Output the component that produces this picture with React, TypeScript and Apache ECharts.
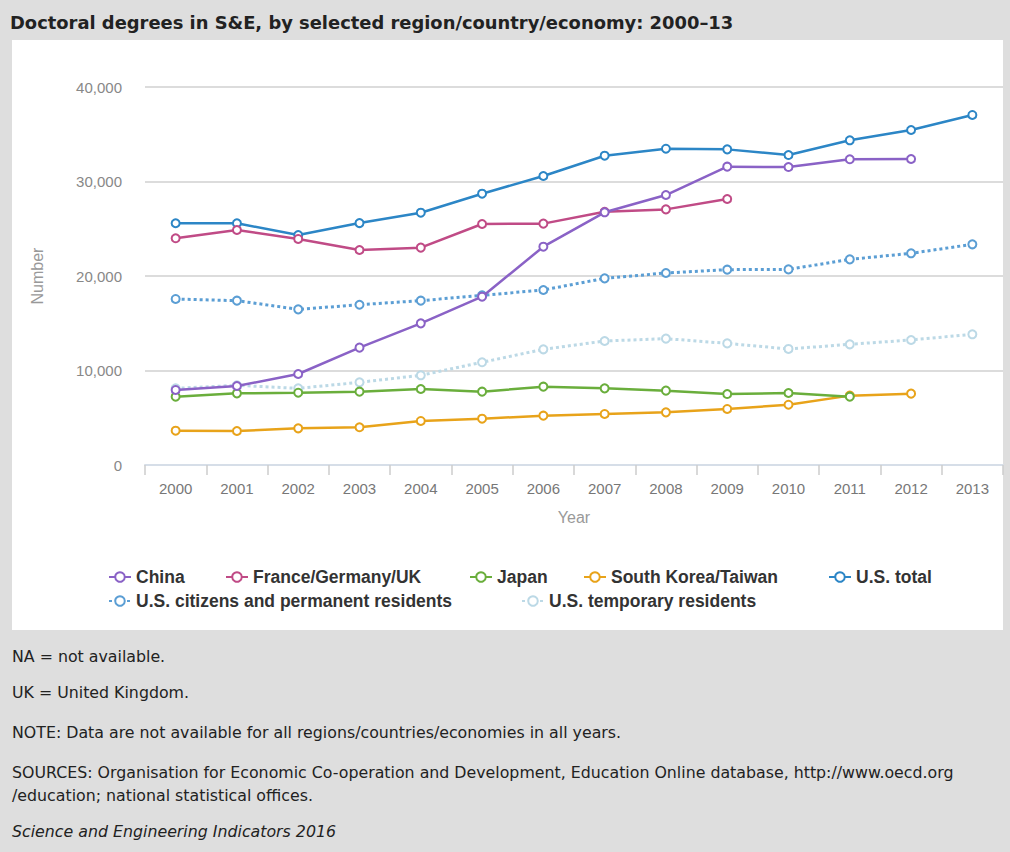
import React, { useEffect, useRef } from "react";
import * as echarts from "echarts";

const years = ["2000","2001","2002","2003","2004","2005","2006","2007","2008","2009","2010","2011","2012","2013"];
const china = [7940, 8360, 9630, 12420, 14990, 17810, 23100, 26740, 28570, 31570, 31530, 32350, 32380, null];
const europe3 = [23990, 24870, 23920, 22750, 23000, 25500, 25540, 26800, 27050, 28150, null, null, null, null];
const japan = [7230, 7580, 7650, 7760, 8040, 7760, 8290, 8110, 7870, 7510, 7620, 7230, null, null];
const koreaTaiwan = [3630, 3600, 3880, 3990, 4660, 4900, 5220, 5400, 5570, 5930, 6380, 7340, 7550, null];
const usTotal = [25580, 25580, 24340, 25600, 26700, 28710, 30580, 32730, 33470, 33400, 32800, 34360, 35450, 37040];
const usCitizens = [17570, 17390, 16470, 16960, 17390, 17950, 18520, 19750, 20320, 20670, 20700, 21760, 22400, 23350];
const usTemporary = [8110, 8430, 8110, 8750, 9490, 10870, 12240, 13120, 13370, 12870, 12280, 12770, 13230, 13830];
const yTicks = [0, 10000, 20000, 30000, 40000];

const seriesNames = ["China", "France/Germany/UK", "Japan", "South Korea/Taiwan", "U.S. total", "U.S. citizens and permanent residents", "U.S. temporary residents"];
const seriesData = [china, europe3, japan, koreaTaiwan, usTotal, usCitizens, usTemporary];
const seriesColors = ["#8a62c6", "#c04b86", "#6aae3c", "#e8a31a", "#2c86c6", "#5b9ed4", "#bcd9e6"];
const seriesDotted = [false, false, false, false, false, true, true];

const footerLines = [
  "NA = not available.",
  "UK = United Kingdom.",
  "NOTE: Data are not available for all regions/countries/economies in all years.",
  "SOURCES: Organisation for Economic Co-operation and Development, Education Online database, http://www.oecd.org",
  "/education; national statistical offices.",
  "Science and Engineering Indicators 2016",
];

export default function App() {
  const ref = useRef<HTMLDivElement>(null);
  useEffect(() => {
    document.body.style.margin = "0";
    const chart = echarts.init(ref.current!, null, { renderer: "svg" });
    const legendPos = [
      [103, 563], [220, 563], [464, 563], [578, 563], [823, 563],
      [103, 587], [516, 587],
    ];
    const footerY = [658, 694, 734, 774, 797, 833];
    const option: any = {
      animation: false,
      backgroundColor: "#dedede",
      title: {
        text: "Doctoral degrees in S&E, by selected region/country/economy: 2000–13",
        left: 10,
        top: 13,
        padding: 0,
        textStyle: { fontFamily: "DejaVu Sans", fontWeight: "bold", fontSize: 17.9, color: "#222" },
      },
      graphic: [
        { type: "rect", z: -10, shape: { x: 12, y: 40, width: 991, height: 590 }, style: { fill: "#ffffff" }, silent: true },
        ...footerLines.map((t, i) => ({
          type: "text",
          left: 12,
          top: footerY[i] - 10,
          style: {
            text: t,
            fontFamily: "DejaVu Sans",
            fontSize: 15.8,
            fontStyle: i === footerLines.length - 1 ? "italic" : "normal",
            fill: "#222",
          },
        })),
      ],
      legend: seriesNames.map((n, i) => ({
        data: [n],
        left: legendPos[i][0],
        top: legendPos[i][1],
        itemWidth: 22,
        itemHeight: 12,
        itemGap: 8,
        textStyle: { fontFamily: "Liberation Sans", fontWeight: "bold", fontSize: 17.5, color: "#333" },
      })),
      grid: { left: 145, right: 7, top: 87, bottom: 387, containLabel: false },
      xAxis: {
        type: "category",
        data: years,
        boundaryGap: true,
        name: "Year",
        nameLocation: "middle",
        nameGap: 44,
        nameTextStyle: { fontFamily: "Liberation Sans", fontSize: 16, color: "#999" },
        axisLine: { lineStyle: { color: "#d6dee8", width: 2 } },
        axisTick: { show: true, length: 10, lineStyle: { color: "#cccccc", width: 1.5 } },
        axisLabel: { fontFamily: "Liberation Sans", fontSize: 15, color: "#777", margin: 16 },
      },
      yAxis: {
        type: "value",
        min: 0,
        max: 40000,
        interval: 10000,
        name: "Number",
        nameLocation: "middle",
        nameRotate: 90,
        nameGap: 100,
        nameTextStyle: { fontFamily: "Liberation Sans", fontSize: 16, color: "#999" },
        axisLine: { show: false },
        axisTick: { show: false },
        splitLine: { lineStyle: { color: "#dcdcdc", width: 2 } },
        axisLabel: {
          fontFamily: "Liberation Sans",
          fontSize: 15,
          color: "#888",
          margin: 23,
          formatter: (v: number) => (yTicks.includes(v) ? v.toLocaleString("en-US") : ""),
        },
      },
      series: seriesNames.map((n, i) => ({
        name: n,
        type: "line",
        data: seriesData[i],
        color: seriesColors[i],
        symbol: "emptyCircle",
        symbolSize: 8,
        connectNulls: false,
        lineStyle: { width: seriesDotted[i] ? 3 : 2.5, type: seriesDotted[i] ? [3, 3] : "solid", color: seriesColors[i] },
        itemStyle: { color: seriesColors[i], borderWidth: 2 },
        z: 10 - i,
      })),
    };
    chart.setOption(option);
    return () => chart.dispose();
  }, []);
  return <div ref={ref} style={{ width: 1010, height: 852 }} />;
}
